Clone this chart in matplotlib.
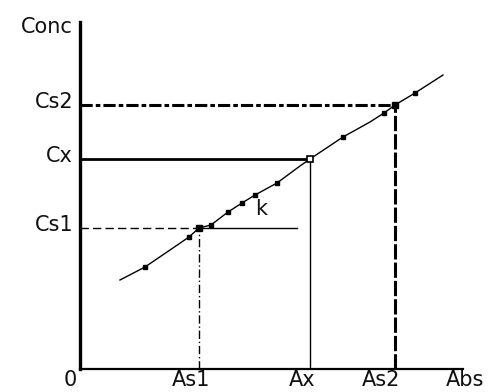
import matplotlib
matplotlib.use("Agg")
import matplotlib.pyplot as plt

# Data (Abs / Conc units)
curve_abs = [0.40, 0.65, 0.90, 1.09, 1.19, 1.31, 1.48, 1.62, 1.75, 1.97, 2.20, 2.30, 2.63, 2.90, 3.04, 3.15, 3.35, 3.63]
curve_conc = [0.89, 1.02, 1.19, 1.32, 1.41, 1.44, 1.57, 1.66, 1.74, 1.86, 2.03, 2.10, 2.32, 2.47, 2.56, 2.64, 2.76, 2.94]
point_abs = [0.65, 1.09, 1.31, 1.48, 1.62, 1.75, 1.97, 2.63, 3.04, 3.35]
point_conc = [1.02, 1.32, 1.44, 1.57, 1.66, 1.74, 1.86, 2.32, 2.56, 2.76]
As1, Cs1 = 1.19, 1.41
Ax, Cx = 2.30, 2.10
As2, Cs2 = 3.15, 2.64
k_end = 2.17
x_labels = ["0", "As1", "Ax", "As2"]
y_labels = ["Cs1", "Cx", "Cs2"]

W, H = 491, 392
fig = plt.figure(figsize=(W / 100, H / 100), dpi=100)
ox, oy, top, right = 80, 369, 22, 463
ax = fig.add_axes([ox / W, (H - oy) / H, (right - ox) / W, (oy - top) / H])
ax.set_xlim(0, (right - ox) / 100)
ax.set_ylim(0, (oy - top) / 100)
for s in ["top", "right"]:
    ax.spines[s].set_visible(False)
ax.spines["left"].set_linewidth(2.4)
ax.spines["bottom"].set_linewidth(1.6)
ax.set_xticks([])
ax.set_yticks([])

fs = 15
tk = dict(fontsize=fs, family="DejaVu Sans", color="#111111")

# guide lines
ax.plot([0, As2], [Cs2, Cs2], color="black", lw=2.2, ls=(0, (4, 1, 1.5, 1)), solid_capstyle="butt")
ax.plot([As2, As2], [0, Cs2], color="black", lw=2.2, ls=(0, (5, 1)))
ax.plot([0, Ax], [Cx, Cx], color="black", lw=2.0)
ax.plot([Ax, Ax], [0, Cx], color="black", lw=1.0)
ax.plot([0, As1], [Cs1, Cs1], color="black", lw=1.0, ls=(0, (6, 3)))
ax.plot([As1, As1], [0, Cs1], color="black", lw=1.0, ls=(0, (6, 2, 1, 2)))
ax.plot([As1, k_end], [Cs1, Cs1], color="black", lw=1.0)

# calibration curve
ax.plot(curve_abs, curve_conc, color="black", lw=1.0)
ax.plot(point_abs, point_conc, ls="none", marker="s", ms=3.0, color="black")
ax.plot([As1], [Cs1], ls="none", marker="s", ms=5, color="black")
ax.plot([As2], [Cs2], ls="none", marker="s", ms=4, color="black")
ax.plot([Ax], [Cx], ls="none", marker="s", ms=5, mfc="white", mec="black", mew=1.2)

ax.text(1.81, 1.60, "k", ha="center", va="center", **tk)

# y labels
for lab, v in zip(y_labels, [Cs1, Cx, Cs2]):
    ax.text(-0.07, v + 0.03, lab, ha="right", va="center", clip_on=False, **tk)
ax.text(-0.07, (oy - 27) / 100, "Conc", ha="right", va="center", clip_on=False, **tk)

# x labels
yb = -0.215
for lab, v, off in zip(x_labels, [0, As1, Ax, As2], [-0.10, -0.08, -0.08, -0.14]):
    ax.text(v + off, yb, lab, ha="center", va="bottom", clip_on=False, **tk)
ax.text(3.85, yb, "Abs", ha="center", va="bottom", clip_on=False, **tk)

fig.savefig("out.png", dpi=100)
